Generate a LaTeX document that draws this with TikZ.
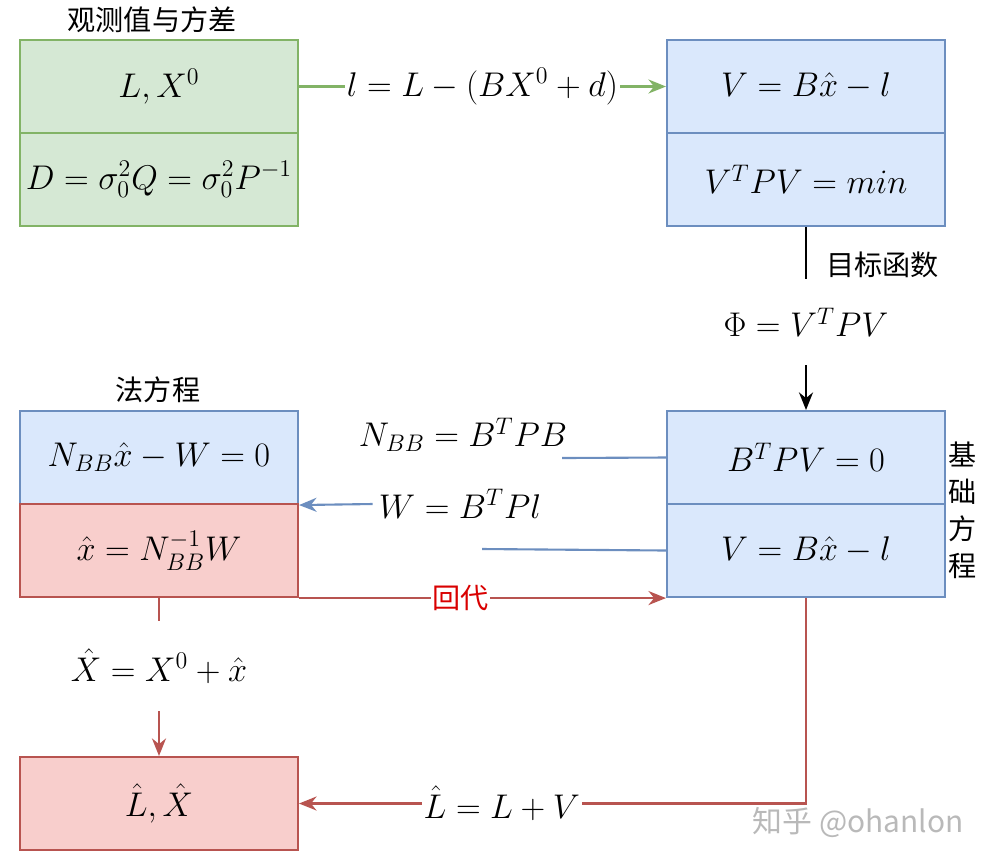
\documentclass[tikz,border=0pt]{standalone}
\usepackage{fix-cm}
\usepackage{amsmath,amssymb}
\usepackage{fontspec}
\newfontfamily\cjk{Noto Sans CJK SC}
\usepackage{xcolor}
\usepackage{tikz}
\usetikzlibrary{arrows.meta}
\usetikzlibrary{positioning}
\definecolor{verdeF}{HTML}{D5E8D4}
\definecolor{verdeB}{HTML}{82B366}
\definecolor{azulF}{HTML}{DAE8FC}
\definecolor{azulB}{HTML}{6C8EBF}
\definecolor{vermF}{HTML}{F8CECC}
\definecolor{vermB}{HTML}{B85450}
\tikzset{
  caixa/.style={draw, line width=1.2pt, minimum width=5.56cm, minimum height=1.86cm, inner sep=0pt},
  verde/.style={caixa, fill=verdeF, draw=verdeB},
  azul/.style={caixa, fill=azulF, draw=azulB},
  verm/.style={caixa, fill=vermF, draw=vermB},
  seta/.style={-{Stealth[length=10pt,width=8pt]}, line width=1.2pt},
  rotulo/.style={fill=white, text=black, inner sep=1pt},
  titulo/.style={font=\cjk\fontsize{16}{21}\selectfont, align=center},
}

\begin{document}
\begin{tikzpicture}[x=0.02cm, y=-0.02cm, font=\fontsize{19.5}{23}\selectfont]
  \useasboundingbox (0,0) rectangle (989,863);
  % observacoes
  \node[titulo] (tobs) at (152,20) {观测值与方差};
  \node[verde] (g1) at (159,86.5) {$L,X^0$};
  \node[verde] (g2) at (159,179.5) {$D=\sigma_0^2Q=\sigma_0^2P^{-1}$};
  % erro
  \node[azul] (b1) at (806,86.5) {$V=B\hat{x}-l$};
  \node[azul] (b2) at (806,179.5) {$V^TPV=min$};
  \draw[seta, verdeB] (g1.east) -- node[rotulo] {$l=L-(BX^0+d)$} (b1.west);
  % funcao objetivo
  \node[azul] (b3) at (806,457.5) {$B^TPV=0$};
  \node[azul] (b4) at (806,550.5) {$V=B\hat{x}-l$};
  \draw[seta, black] (b2.south) -- node[rotulo, minimum height=1.72cm, pos=0.52] (phi) {$\Phi=V^TPV$} (b3.north);
  \node[titulo, anchor=west] (tobj) at (820,265) {目标函数};
  \node[titulo] (tbase) at (963,510) {基\\础\\方\\程};
  % equacao normal
  \node[titulo] (tnor) at (158,390) {法方程};
  \node[azul] (l1) at (159,457.5) {$N_{BB}\hat{x}-W=0$};
  \node[verm] (l2) at (159,550.5) {$\hat{x}=N_{BB}^{-1}W$};
  \node (nbb) at (463,435) {$N_{BB}=B^TPB$};
  \node (w) at (460,504) {$W=B^TPl$};
  \coordinate (c1) at (562,458);
  \coordinate (c2) at (482,549);
  \draw[line width=1.2pt, azulB] (b3.west) -- (c1);
  \draw[line width=1.2pt, azulB] (b4.west) -- (c2);
  \draw[seta, azulB] (w.west) -- (l1.south east);
  \draw[seta, vermB] (l2.south east) -- node[rotulo, pos=0.44, font=\cjk\fontsize{16}{19}\selectfont, text=red!85!black] {回代} (b4.south west);
  % resultado
  \node[verm] (res) at (159,803.5) {$\hat{L},\hat{X}$};
  \draw[seta, vermB] (l2.south) -- node[rotulo, minimum height=1.8cm, pos=0.43] {$\hat{X}=X^0+\hat{x}$} (res.north);
  \draw[seta, vermB] (b4.south) |- node[rotulo, pos=0.8] {$\hat{L}=L+V$} (res.east);
  \node[font=\cjk\fontsize{17}{20}\selectfont, text=gray!55] (marca) at (858,823) {知乎 @ohanlon};
\end{tikzpicture}
\end{document}
